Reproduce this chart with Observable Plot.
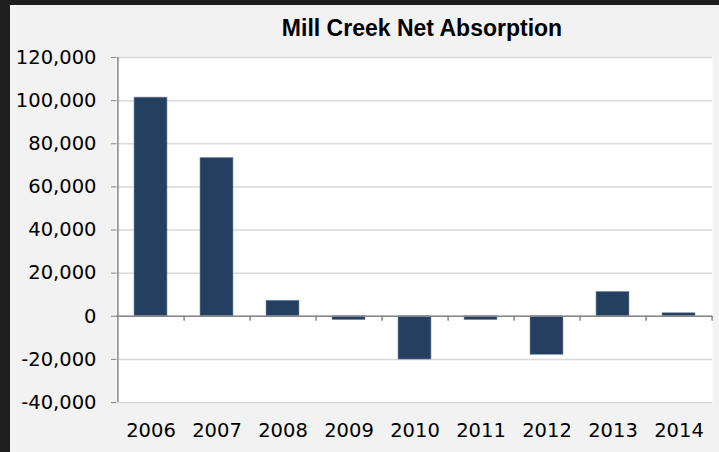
<!DOCTYPE html>
<html><head><meta charset="utf-8">
<script src="https://cdn.jsdelivr.net/npm/d3@7"></script>
<script src="https://cdn.jsdelivr.net/npm/@observablehq/plot@0.6"></script>
<style>
html,body{margin:0;padding:0;background:#1e1e1e;width:719px;height:452px;overflow:hidden}
#wrap{position:absolute;left:10px;top:5px;width:709px;height:447px;background:#f2f2f2}
#title{position:absolute;left:412px;top:11.5px;transform:translateX(-50%);font:bold 23px "Liberation Sans",Arial,sans-serif;line-height:23px;white-space:nowrap;color:#000}
#chart{position:absolute;left:0;top:0}
</style></head><body>
<div id="wrap"><div id="title">Mill Creek Net Absorption</div><div id="chart"></div></div>
<script>
const years = ["2006","2007","2008","2009","2010","2011","2012","2013","2014"];
const absorption = [101400, 73400, 7200, -1800, -20100, -1800, -17900, 11300, 1400];
const yTicks = [-40000,-20000,0,20000,40000,60000,80000,100000,120000];

const W = 709, H = 447, mL = 106, mR = 7, mT = 52, mB = 50;
const half = (W - mL - mR) / years.length / 2;
const data = years.map((year, i) => ({year, value: absorption[i]}));
const axisColor = "#868686";

const chart = Plot.plot({
  width: W, height: H,
  marginLeft: mL, marginRight: mR, marginTop: mT, marginBottom: mB,
  style: {background: "transparent", fontFamily: "'DejaVu Sans', sans-serif", fontSize: "19.5px", color: "#000"},
  x: {domain: years, paddingInner: 0.5, paddingOuter: 0.25, label: null},
  y: {domain: [yTicks[0], yTicks[yTicks.length - 1]], label: null},
  marks: [
    Plot.frame({fill: "white", stroke: "none"}),
    Plot.gridY(yTicks, {stroke: "#d9d9d9", strokeOpacity: 1, strokeWidth: 1.5}),
    Plot.barY(data, {x: "year", y: "value", fill: "#243f60", stroke: "#8094ae", strokeWidth: 0.6}),
    Plot.ruleY([0], {stroke: axisColor, strokeWidth: 1.5}),
    Plot.ruleX(years, {x: d => d, y1: 0, y2: 0, dx: half, insetBottom: -5, stroke: axisColor, strokeWidth: 1.5}),
    Plot.ruleX([years[0]], {x: d => d, y1: yTicks[0], y2: yTicks[yTicks.length - 1], dx: -half, stroke: axisColor, strokeWidth: 1.5}),
    Plot.axisY(yTicks, {tickSize: 5, tickPadding: 15, tickFormat: d => d.toLocaleString("en-US"), stroke: axisColor, fill: "#000", label: null}),
    Plot.axisX({tickSize: 0, tickPadding: 21, label: null, fill: "#000"})
  ]
});
document.getElementById("chart").appendChild(chart);
</script>
</body></html>
